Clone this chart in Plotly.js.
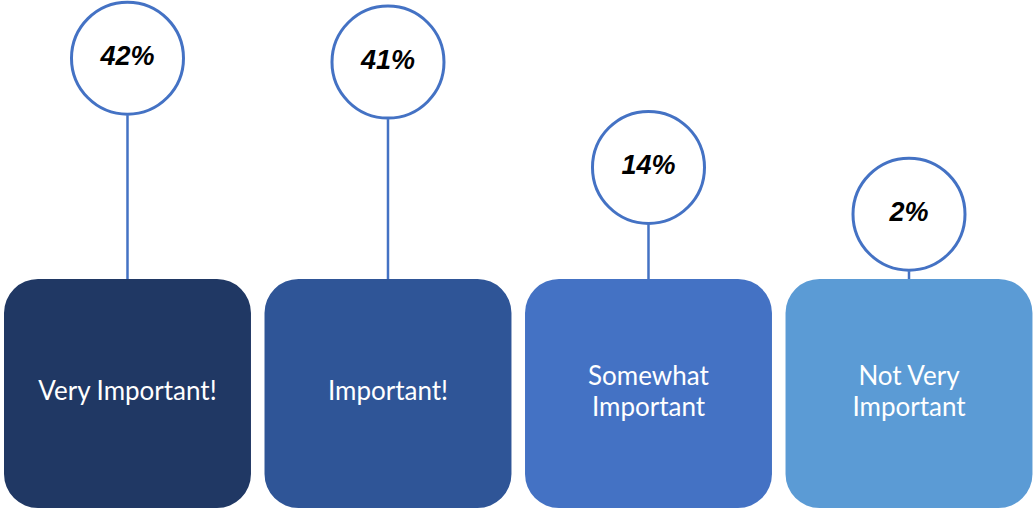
<!DOCTYPE html>
<html>
<head>
<meta charset="utf-8">
<script src="https://cdn.plot.ly/plotly-3.0.1.min.js"></script>
<style>html,body{margin:0;padding:0;background:#fff;}#chart{width:1035px;height:510px;}</style>
</head>
<body>
<div id="chart"></div>
<script>
// ---- data ----
const categories = ["Very Important!", "Important!", "Somewhat Important", "Not Very Important"];
const labelLine1 = ["Very Important!", "Important!", "Somewhat", "Not Very"];
const labelLine2 = ["", "", "Important", "Important"];
const values = [42, 41, 14, 2];
const valueLabels = ["42%", "41%", "14%", "2%"];
const boxColors = ["#203864", "#2F5597", "#4472C4", "#5B9BD5"];

// ---- layout constants (pixel geometry) ----
const W = 1035, H = 510;
const pxPerUnit = 3.9;        // stem pixels per percent
const boxTopPx = 279, boxBottomPx = 508;
const circleR = 57;           // circle radius in px
const lineGapPx = 15.5;       // half line spacing of two-line labels
const yTop = boxTopPx / pxPerUnit;
const yBot = -(H - boxTopPx) / pxPerUnit;
const boxDepth = (boxBottomPx - boxTopPx) / pxPerUnit;
const shift = circleR / pxPerUnit;
const gap = lineGapPx / pxPerUnit;

const zeros = values.map(() => 0);
const mid = -boxDepth / 2;
const y1 = labelLine2.map(s => s ? mid + gap : mid);
const y2 = labelLine2.map(() => mid - gap);

const labelFont = { family: "Lato, 'Open Sans', sans-serif", size: 26, color: "#ffffff" };

const traces = [
  // boxes
  { type: "bar", x: categories, y: values.map(() => boxDepth), base: values.map(() => -boxDepth),
    width: 0.948, marker: { color: boxColors, cornerradius: 34, line: { width: 0 } },
    hoverinfo: "skip", showlegend: false },
  // box labels, first line
  { type: "scatter", mode: "text", x: categories, y: y1, text: labelLine1,
    textposition: "middle center", textfont: labelFont,
    hoverinfo: "skip", showlegend: false },
  // box labels, second line
  { type: "scatter", mode: "text", x: categories, y: y2, text: labelLine2,
    textposition: "middle center", textfont: labelFont,
    hoverinfo: "skip", showlegend: false },
  // stems
  { type: "scatter", mode: "markers", x: categories, y: values,
    marker: { size: 1, color: "rgba(0,0,0,0)" },
    error_y: { type: "data", symmetric: false, array: zeros, arrayminus: values,
               color: "#4472C4", thickness: 2.5, width: 0 },
    hoverinfo: "skip", showlegend: false },
  // circles with values
  { type: "scatter", mode: "markers+text", x: categories, y: values, yaxis: "y2",
    text: valueLabels, textposition: "middle center",
    textfont: { family: "'Liberation Sans', Arial, sans-serif", size: 27, color: "#000000", weight: 700, style: "italic" },
    marker: { size: 2 * circleR - 2, color: "#ffffff", line: { color: "#4472C4", width: 3 } },
    hoverinfo: "skip", showlegend: false }
];

const layout = {
  width: W, height: H,
  margin: { l: 0, r: 0, t: 0, b: 0 },
  paper_bgcolor: "#ffffff", plot_bgcolor: "#ffffff",
  barmode: "overlay",
  xaxis: { type: "category", range: [-0.4894, 3.4837], visible: false, fixedrange: true },
  yaxis: { range: [yBot, yTop], visible: false, fixedrange: true },
  yaxis2: { range: [yBot - shift, yTop - shift], overlaying: "y", visible: false, fixedrange: true },
  showlegend: false
};

Plotly.newPlot("chart", traces, layout, { displayModeBar: false, staticPlot: true });
</script>
</body>
</html>
